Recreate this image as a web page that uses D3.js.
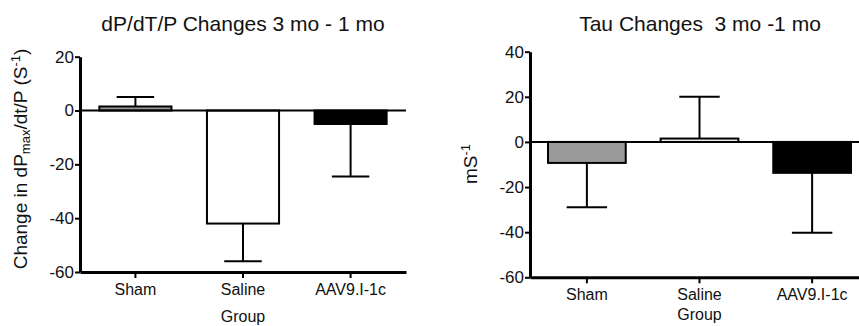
<!DOCTYPE html>
<html>
<head>
<meta charset="utf-8">
<script src="https://cdn.jsdelivr.net/npm/d3@7"></script>
<style>
  body { margin: 0; background: #fff; }
  svg text { font-family: "Liberation Sans", Arial, sans-serif; fill: #111; }
</style>
</head>
<body>
<div id="chart-area"></div>
<script>
// data
var groups = ["Sham", "Saline", "AAV9.I-1c"];
var fills = ["#9a9a9a", "#ffffff", "#000000"];

var dpMeans = [1.5, -42, -5];
var dpErrs = [3.5, 14, 19.5];
var dpTicks = [20, 0, -20, -40, -60];

var tauMeans = [-9.3, 1.5, -13.7];
var tauErrs = [19.7, 18.5, 26.5];
var tauTicks = [40, 20, 0, -20, -40, -60];

var canvas = d3.select("#chart-area")
  .append("svg")
  .attr("width", 859)
  .attr("height", 326);

function drawPanel(opt) {
  var g = canvas.append("g");

  var yScale = d3.scaleLinear()
    .domain(opt.domain)
    .range([opt.bottom, opt.top]);

  var xScale = d3.scaleBand()
    .domain(groups)
    .range([opt.left, opt.right])
    .paddingInner(opt.padIn)
    .paddingOuter(opt.padOut);

  var data = groups.map((d, i) => ({ name: d, mean: opt.means[i], err: opt.errs[i], fill: fills[i] }));

  // error bars (one sided, away from zero)
  var eb = g.selectAll(".err").data(data).enter().append("g").attr("class", "err");
  eb.append("line")
    .attr("x1", d => xScale(d.name) + xScale.bandwidth() / 2)
    .attr("x2", d => xScale(d.name) + xScale.bandwidth() / 2)
    .attr("y1", d => yScale(d.mean))
    .attr("y2", d => yScale(d.mean + Math.sign(d.mean) * d.err))
    .attr("stroke", "#000").attr("stroke-width", 2);
  eb.append("line")
    .attr("x1", d => xScale(d.name) + xScale.bandwidth() * 0.24)
    .attr("x2", d => xScale(d.name) + xScale.bandwidth() * 0.76)
    .attr("y1", d => yScale(d.mean + Math.sign(d.mean) * d.err))
    .attr("y2", d => yScale(d.mean + Math.sign(d.mean) * d.err))
    .attr("stroke", "#000").attr("stroke-width", 2);

  // bars
  g.selectAll("rect.bar").data(data).enter().append("rect")
    .attr("class", "bar")
    .attr("x", d => xScale(d.name))
    .attr("y", d => yScale(Math.max(0, d.mean)))
    .attr("width", xScale.bandwidth())
    .attr("height", d => Math.abs(yScale(d.mean) - yScale(0)))
    .attr("fill", d => d.fill)
    .attr("stroke", "#000")
    .attr("stroke-width", 2);

  // zero line
  g.append("line")
    .attr("x1", opt.left).attr("x2", opt.right)
    .attr("y1", yScale(0)).attr("y2", yScale(0))
    .attr("stroke", "#000").attr("stroke-width", 2);

  // y axis
  var yAxis = g.append("g")
    .attr("transform", "translate(" + opt.left + ",0)")
    .call(d3.axisLeft(yScale).tickValues(opt.ticks).tickFormat(d => String(d))
      .tickSize(5).tickSizeOuter(0).tickPadding(1));
  yAxis.select(".domain").attr("stroke-width", 3);
  yAxis.selectAll(".tick line").attr("stroke-width", 2);
  yAxis.selectAll("text").attr("font-size", "17px").attr("fill", "#111")
    .style("font-family", "'Liberation Sans', Arial, sans-serif");

  // x axis at bottom
  var xAxis = g.append("g")
    .attr("transform", "translate(0," + opt.bottom + ")")
    .call(d3.axisBottom(xScale).tickSize(6).tickSizeOuter(0).tickPadding(opt.xPad));
  xAxis.select(".domain").attr("stroke-width", 3);
  xAxis.selectAll(".tick line").attr("stroke-width", 2);
  xAxis.selectAll("text").attr("font-size", "16px").attr("fill", "#111")
    .style("font-family", "'Liberation Sans', Arial, sans-serif");

  // title
  g.append("text")
    .attr("x", opt.titleX).attr("y", 31)
    .attr("text-anchor", "middle")
    .attr("font-size", "21px")
    .attr("xml:space", "preserve")
    .text(opt.title);

  // x label
  g.append("text")
    .attr("x", xScale("Saline") + xScale.bandwidth() / 2)
    .attr("y", opt.groupY)
    .attr("text-anchor", "middle")
    .attr("font-size", "16px")
    .text("Group");

  return g;
}

var left = drawPanel({
  left: 80, right: 406, top: 56.7, bottom: 272,
  domain: [-60, 20], ticks: dpTicks,
  means: dpMeans, errs: dpErrs,
  padIn: 0.33, padOut: 0.18,
  xPad: 6, groupY: 322,
  title: "dP/dT/P Changes 3 mo - 1 mo", titleX: 243
});

var right = drawPanel({
  left: 530, right: 869, top: 51.7, bottom: 277.3,
  domain: [-60, 40], ticks: tauTicks,
  means: tauMeans, errs: tauErrs,
  padIn: 0.31, padOut: 0.16,
  xPad: 5, groupY: 320,
  title: "Tau Changes  3 mo -1 mo", titleX: 700
});

// y axis labels
var yl = left.append("text")
  .attr("transform", "translate(27,159) rotate(-90)")
  .attr("text-anchor", "middle")
  .attr("font-size", "19px");
yl.append("tspan").text("Change in dP");
yl.append("tspan").attr("font-size", "13px").attr("baseline-shift", "-3px").text("max");
yl.append("tspan").text("/dt/P (S");
yl.append("tspan").attr("font-size", "13px").attr("baseline-shift", "super").text("-1");
yl.append("tspan").text(")");

var yr = right.append("text")
  .attr("transform", "translate(477,164) rotate(-90)")
  .attr("text-anchor", "middle")
  .attr("font-size", "19px");
yr.append("tspan").text("mS");
yr.append("tspan").attr("font-size", "13px").attr("baseline-shift", "super").text("-1");
</script>
</body>
</html>
